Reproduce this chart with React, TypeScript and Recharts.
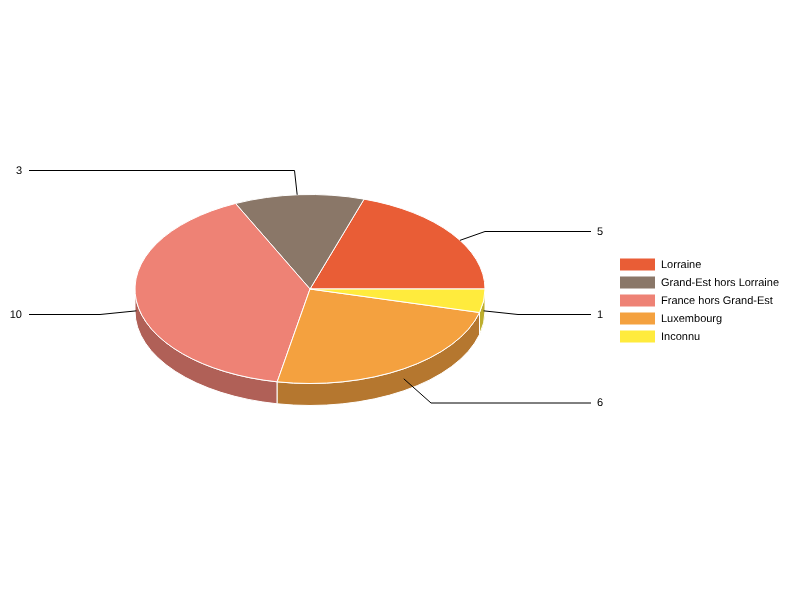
import React from "react";
import { Cell, Legend, Pie, PieChart } from "recharts";

const regions = ["Lorraine", "Grand-Est hors Lorraine", "France hors Grand-Est", "Luxembourg", "Inconnu"];
const counts = [5, 3, 10, 6, 1];
const topColors = ["#E95D36", "#8A7768", "#EE8275", "#F4A13F", "#FFEB3D"];
const sideColors = ["#AD4528", "#66584D", "#B06057", "#B5772F", "#BDAE2D"];

// label leader geometry: elbow point and text side for each slice
const leaders = [
  { elbowX: 485, y: 231, side: "right", anchorAngle: 31 },
  { elbowX: 294.5, y: 170, side: "left", anchorAngle: 94.2 },
  { elbowX: 100, y: 314, side: "left" },
  { elbowX: 431, y: 402.5, side: "right" },
  { elbowX: 518, y: 314, side: "right" }
];

const SQUASH = 0.54;
const DEPTH = 22;
const RAD = Math.PI / 180;
const FONT = "'Liberation Sans', Arial, sans-serif";

const data = regions.map((name, i) => ({ name, value: counts[i] }));

function rimPoint(cx: number, cy: number, r: number, deg: number) {
  return [cx + r * Math.cos(deg * RAD), cy - r * SQUASH * Math.sin(deg * RAD)];
}

function EllipseSlice(props: any) {
  const { cx, cy, outerRadius: r, startAngle, endAngle, fill, index } = props;
  const ry = r * SQUASH;
  const [x0, y0] = rimPoint(cx, cy, r, startAngle);
  const [x1, y1] = rimPoint(cx, cy, r, endAngle);
  const large = endAngle - startAngle > 180 ? 1 : 0;
  const top = `M${cx},${cy} L${x0},${y0} A${r},${ry} 0 ${large} 0 ${x1},${y1} Z`;

  // only the front half of the rim shows a wall
  const from = Math.max(startAngle, 180);
  const to = Math.min(endAngle, 360);
  let wall = null;
  if (to > from) {
    const [wx0, wy0] = rimPoint(cx, cy, r, from);
    const [wx1, wy1] = rimPoint(cx, cy, r, to);
    wall = (
      <path
        d={`M${wx0},${wy0} A${r},${ry} 0 0 0 ${wx1},${wy1} L${wx1},${wy1 + DEPTH} A${r},${ry} 0 0 1 ${wx0},${wy0 + DEPTH} Z`}
        fill={sideColors[index ?? regions.indexOf(props.name)]}
        stroke="#ffffff"
        strokeWidth={1}
      />
    );
  }
  return (
    <g>
      {wall}
      <path d={top} fill={fill} stroke="#ffffff" strokeWidth={1} strokeLinejoin="round" />
    </g>
  );
}

function LeaderLabel(props: any) {
  const { cx, cy, outerRadius: r, midAngle, index, value } = props;
  const leader = leaders[index];
  const angle = leader.anchorAngle ?? midAngle;
  const [ax, rimY] = rimPoint(cx, cy, r, angle);
  const normalized = ((angle % 360) + 360) % 360;
  const ay = normalized > 180 ? rimY + DEPTH / 2 - 1 : rimY;
  const endX = leader.side === "right" ? 591 : 29;
  const textX = leader.side === "right" ? 597 : 22;
  return (
    <g>
      <polyline
        points={`${ax},${ay} ${leader.elbowX},${leader.y + 0.5} ${endX},${leader.y + 0.5}`}
        fill="none"
        stroke="#000000"
        strokeWidth={1}
      />
      <text
        x={textX}
        y={Math.floor(leader.y) + 4}
        textAnchor={leader.side === "right" ? "start" : "end"}
        fontSize={11}
        fontFamily={FONT}
        fill="#000000"
        style={{ textRendering: "geometricPrecision" }}
      >
        {value}
      </text>
    </g>
  );
}

function LegendBox({ payload }: any) {
  return (
    <div style={{ fontFamily: FONT, fontSize: 11, color: "#000000", textRendering: "geometricPrecision" }}>
      {(payload ?? []).map((item: any) => (
        <div key={item.value} style={{ display: "flex", alignItems: "center", height: 18, whiteSpace: "nowrap" }}>
          <svg width={35} height={13} style={{ marginRight: 6, flex: "none" }}>
            <rect x={0} y={0.5} width={35} height={12} fill={item.color} />
          </svg>
          <span style={{ position: "relative", top: 1 }}>{item.value}</span>
        </div>
      ))}
    </div>
  );
}

export default function App() {
  return (
    <div style={{ position: "absolute", left: 0, top: 0, width: 800, height: 600, willChange: "transform" }}>
      <PieChart width={800} height={600} margin={{ top: 0, right: 0, bottom: 0, left: 0 }}>
        <Pie
          data={data}
          dataKey="value"
          nameKey="name"
          cx={310}
          cy={289}
          innerRadius={0}
          outerRadius={175}
          startAngle={0}
          endAngle={360}
          paddingAngle={0}
          isAnimationActive={false}
          shape={EllipseSlice}
          label={LeaderLabel}
          labelLine={false}
        >
          {regions.map((name, i) => (
            <Cell key={name} fill={topColors[i]} />
          ))}
        </Pie>
        <Legend
          content={<LegendBox />}
          itemSorter={null}
          layout="vertical"
          wrapperStyle={{ position: "absolute", left: 620, top: 255, width: 180, bottom: "auto" }}
        />
      </PieChart>
    </div>
  );
}
